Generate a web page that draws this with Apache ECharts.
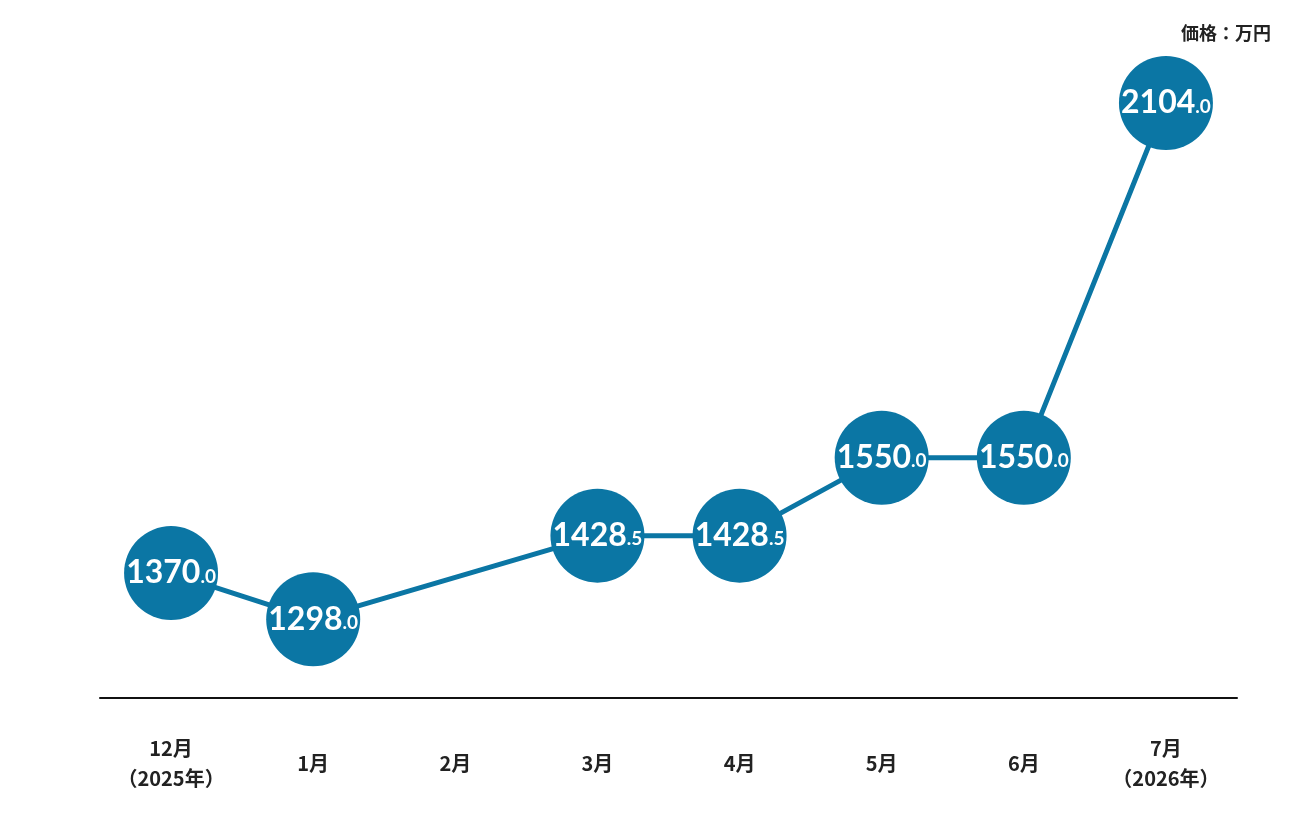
<!DOCTYPE html>
<html lang="ja">
<head>
    <meta charset="UTF-8" />
    <title>価格推移</title>
    <script src="https://cdn.jsdelivr.net/npm/echarts@6.0.0/dist/echarts.min.js"></script>
    <style>
        html, body { margin: 0; padding: 0; background: #fff; }
        #lienzo { width: 1296px; height: 816px; }
    </style>
</head>
<body>
    <div id="lienzo"></div>
    <script>
        // 月ラベル
        let meses = ['12月\n（2025年）', '1月', '2月', '3月', '4月', '5月', '6月', '7月\n（2026年）'];
        // 価格（万円）, 2月はデータなし
        let precios = [1370.0, 1298.0, null, 1428.5, 1428.5, 1550.0, 1550.0, 2104.0];
        let unidad = '価格：万円';

        let azul = '#0b76a4';
        let myChart = echarts.init(document.getElementById('lienzo'));

        myChart.setOption({
            animation: false,
            title: {
                text: unidad,
                right: 20,
                top: 19,
                textStyle: {
                    fontFamily: 'Noto Sans CJK JP',
                    fontSize: 18,
                    fontWeight: 'bold',
                    color: '#222'
                }
            },
            grid: { left: 100, right: 59, top: 62, bottom: 118 },
            xAxis: {
                type: 'category',
                data: meses,
                boundaryGap: true,
                axisLine: { lineStyle: { color: '#111', width: 2 } },
                axisTick: { show: false },
                axisLabel: {
                    interval: 0,
                    margin: 65,
                    verticalAlign: 'middle',
                    lineHeight: 30,
                    fontFamily: 'Noto Sans CJK JP',
                    fontSize: 20,
                    fontWeight: 'bold',
                    color: '#222'
                }
            },
            yAxis: {
                type: 'value',
                min: 1175,
                max: 2168,
                show: false
            },
            series: [
                {
                    type: 'line',
                    data: precios,
                    connectNulls: true,
                    symbol: 'circle',
                    symbolSize: 94,
                    lineStyle: { color: azul, width: 5 },
                    itemStyle: { color: azul },
                    label: {
                        show: true,
                        position: 'inside',
                        formatter: (p) => {
                            let partes = p.value.toFixed(1).split('.');
                            return '{a|' + partes[0] + '}{b|.' + partes[1] + '}';
                        },
                        rich: {
                            a: {
                                fontFamily: 'Lato',
                                fontSize: 32,
                                fontWeight: 'bold',
                                color: '#fff'
                            },
                            b: {
                                fontFamily: 'Lato',
                                fontSize: 19,
                                fontWeight: 'bold',
                                color: '#fff',
                                padding: [7, 0, 0, 0]
                            }
                        }
                    }
                }
            ]
        });
    </script>
</body>
</html>
